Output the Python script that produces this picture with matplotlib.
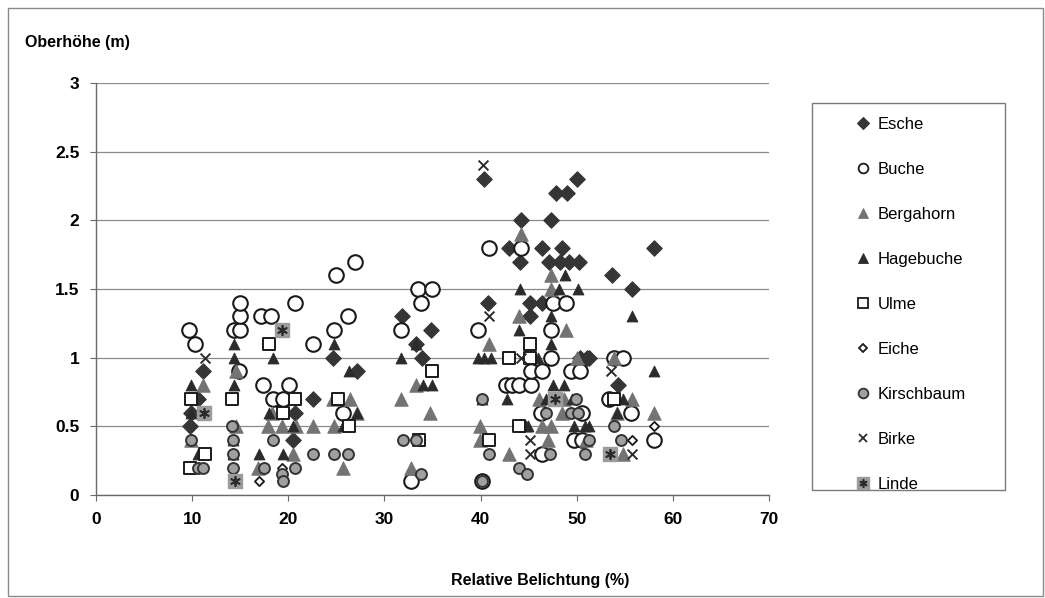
import matplotlib
matplotlib.use("Agg")
import matplotlib.pyplot as plt
from matplotlib.lines import Line2D
from matplotlib.patches import Rectangle
from matplotlib.legend_handler import HandlerTuple

plt.rcParams["font.family"] = ["Liberation Sans", "DejaVu Sans"]

# Relative Belichtung (%) / Oberhöhe (m) per tree species
esche_x = [9.8, 9.9, 10.6, 11.1, 19.4, 20.5, 20.7, 22.6, 24.7, 27.1, 31.8, 33.3, 33.9, 34.8,
           40.4, 40.8, 43.0, 44.2, 44.1, 45.1, 45.1, 46.4, 46.4, 47.3, 47.8, 48.5, 47.1, 48.3,
           49.0, 49.2, 50.0, 50.2, 50.3, 51.1, 51.3, 53.7, 54.3, 55.7, 58.0]
esche_y = [0.5, 0.6, 0.7, 0.9, 0.7, 0.4, 0.6, 0.7, 1.0, 0.9, 1.3, 1.1, 1.0, 1.2,
           2.3, 1.4, 1.8, 2.0, 1.7, 1.4, 1.3, 1.4, 1.8, 2.0, 2.2, 1.8, 1.7, 1.7,
           2.2, 1.7, 2.3, 1.7, 1.0, 1.0, 1.0, 1.6, 0.8, 1.5, 1.8]

buche_x = [9.7, 10.3, 14.4, 15.0, 15.0, 15.0, 14.9, 17.2, 18.2, 20.7, 17.4, 20.1, 18.4, 19.4,
           22.6, 24.8, 25.0, 26.9, 26.2, 25.7, 31.7, 33.5, 34.9, 33.8, 32.8, 39.7, 40.9, 40.1,
           42.6, 43.3, 44.0, 45.2, 44.2, 45.2, 46.4, 47.3, 47.5, 48.9, 47.3, 49.4, 50.3, 46.3,
           49.7, 50.6, 46.4, 50.6, 53.9, 54.8, 53.4, 55.6, 58.0]
buche_y = [1.2, 1.1, 1.2, 1.2, 1.3, 1.4, 0.9, 1.3, 1.3, 1.4, 0.8, 0.8, 0.7, 0.7,
           1.1, 1.2, 1.6, 1.7, 1.3, 0.6, 1.2, 1.5, 1.5, 1.4, 0.1, 1.2, 1.8, 0.1,
           0.8, 0.8, 0.8, 0.8, 1.8, 0.9, 0.9, 1.2, 1.4, 1.4, 1.0, 0.9, 0.9, 0.6,
           0.4, 0.4, 0.3, 0.6, 1.0, 1.0, 0.7, 0.6, 0.4]

bergahorn_x = [11.1, 9.9, 14.6, 14.6, 16.8, 17.9, 18.3, 19.3, 20.8, 22.6, 20.5, 24.6, 26.4,
               27.1, 24.8, 25.7, 31.7, 33.3, 34.7, 32.8, 40.9, 39.9, 39.9, 43.0, 44.2, 44.0,
               47.3, 47.3, 48.9, 50.0, 46.1, 48.7, 48.5, 46.4, 47.3, 47.0, 51.0, 53.9, 55.7,
               54.2, 58.0, 54.8]
bergahorn_y = [0.8, 0.4, 0.9, 0.5, 0.2, 0.5, 0.6, 0.5, 0.5, 0.5, 0.3, 0.7, 0.7,
               0.6, 0.5, 0.2, 0.7, 0.8, 0.6, 0.2, 1.1, 0.5, 0.4, 0.3, 1.9, 1.3,
               1.6, 1.5, 1.2, 1.0, 0.7, 0.7, 0.6, 0.5, 0.5, 0.4, 0.4, 1.0, 0.7,
               0.6, 0.6, 0.3]

hagebuche_x = [9.9, 9.9, 10.6, 14.4, 14.4, 14.4, 14.3, 14.3, 17.0, 18.4, 18.0, 20.5, 19.4,
               24.8, 26.3, 27.1, 25.7, 33.3, 31.7, 34.0, 34.9, 39.7, 40.4, 41.1, 44.0, 42.8,
               44.7, 40.1, 44.1, 48.2, 50.1, 48.8, 47.3, 47.3, 46.0, 47.5, 48.7, 46.8, 49.5,
               44.9, 49.7, 50.9, 55.7, 58.0, 54.8, 54.2, 51.3]
hagebuche_y = [0.8, 0.6, 0.3, 1.1, 1.0, 0.8, 0.4, 0.3, 0.3, 1.0, 0.6, 0.5, 0.3,
               1.1, 0.9, 0.6, 0.5, 1.1, 1.0, 0.8, 0.8, 1.0, 1.0, 1.0, 1.2, 0.7,
               0.5, 0.7, 1.5, 1.5, 1.5, 1.6, 1.3, 1.1, 1.0, 0.8, 0.8, 0.7, 0.7,
               0.5, 0.5, 0.5, 1.3, 0.9, 0.7, 0.6, 0.5]

ulme_x = [9.9, 11.3, 9.8, 14.1, 18.0, 20.7, 19.4, 25.2, 26.3, 34.9, 33.6, 40.9, 43.0, 44.0,
          45.1, 45.1, 53.9]
ulme_y = [0.7, 0.3, 0.2, 0.7, 1.1, 0.7, 0.6, 0.7, 0.5, 0.9, 0.4, 0.4, 1.0, 0.5,
          1.1, 1.0, 0.7]

eiche_x = [17.0, 19.3, 55.8, 58.0]
eiche_y = [0.1, 0.2, 0.4, 0.5]

kirschbaum_x = [9.9, 10.6, 11.1, 14.1, 14.3, 14.3, 14.3, 14.5, 17.5, 18.4, 19.3, 19.4, 20.7,
                22.6, 24.8, 26.2, 31.9, 33.3, 33.8, 40.1, 40.9, 40.1, 44.0, 44.8, 46.8, 49.9,
                49.4, 50.1, 47.2, 50.9, 53.9, 54.6, 51.3]
kirschbaum_y = [0.4, 0.2, 0.2, 0.5, 0.4, 0.3, 0.2, 0.1, 0.2, 0.4, 0.15, 0.1, 0.2,
                0.3, 0.3, 0.3, 0.4, 0.4, 0.15, 0.7, 0.3, 0.1, 0.2, 0.15, 0.6, 0.7,
                0.6, 0.6, 0.3, 0.3, 0.5, 0.4, 0.4]

birke_x = [11.3, 19.3, 40.3, 40.9, 44.2, 45.1, 45.1, 47.7, 53.6, 55.7]
birke_y = [1.0, 1.2, 2.4, 1.3, 1.0, 0.4, 0.3, 0.7, 0.9, 0.3]

linde_x = [11.2, 19.3, 14.5, 47.7, 53.5]
linde_y = [0.6, 1.2, 0.1, 0.7, 0.3]

x_ticks = [0, 10, 20, 30, 40, 50, 60, 70]
y_ticks = [0, 0.5, 1, 1.5, 2, 2.5, 3]
y_ticklabels = ["0", "0.5", "1", "1.5", "2", "2.5", "3"]

W, H = 1045, 598
fig = plt.figure(figsize=(W / 100, H / 100), dpi=100)
ax = fig.add_axes([96 / W, 103 / H, (769 - 96) / W, (515 - 103) / H])

DARK = "#2b2b2b"
DIAMOND = "#353535"
GREY = "#737373"
KGREY = "#a0a0a0"

series = [
    dict(x=esche_x, y=esche_y, label="Esche", marker="D", s=62, fc=DIAMOND, ec=DIAMOND, lw=0.8),
    dict(x=buche_x, y=buche_y, label="Buche", marker="o", s=110, fc="white", ec="#1a1a1a", lw=1.5),
    dict(x=bergahorn_x, y=bergahorn_y, label="Bergahorn", marker="^", s=95, fc=GREY, ec=GREY, lw=0.6),
    dict(x=hagebuche_x, y=hagebuche_y, label="Hagebuche", marker="^", s=62, fc=DARK, ec=DARK, lw=0.6),
    dict(x=ulme_x, y=ulme_y, label="Ulme", marker="s", s=70, fc="white", ec="#1a1a1a", lw=1.4),
    dict(x=eiche_x, y=eiche_y, label="Eiche", marker="D", s=22, fc="white", ec="#1a1a1a", lw=1.3),
    dict(x=kirschbaum_x, y=kirschbaum_y, label="Kirschbaum", marker="o", s=62, fc=KGREY, ec="#333333", lw=1.4),
    dict(x=birke_x, y=birke_y, label="Birke", marker="x", s=50, fc=DARK, ec=DARK, lw=1.4),
]

for k, sr in enumerate(series):
    if sr["marker"] == "x":
        ax.scatter(sr["x"], sr["y"], marker="x", s=sr["s"], c=sr["fc"], linewidths=sr["lw"], zorder=3 + k)
    else:
        ax.scatter(sr["x"], sr["y"], marker=sr["marker"], s=sr["s"], facecolors=sr["fc"],
                   edgecolors=sr["ec"], linewidths=sr["lw"], zorder=3 + k)

# Linde: grey square with a dark asterisk on top
ax.scatter(linde_x, linde_y, marker="s", s=95, facecolors="#9c9c9c", edgecolors="#9c9c9c", zorder=12)
ax.scatter(linde_x, linde_y, marker=(6, 2, 0), s=45, c="#2b2b2b", linewidths=1.3, zorder=13)

ax.set_xlim(0, 70)
ax.set_ylim(0, 3)
ax.set_xticks(x_ticks)
ax.set_yticks(y_ticks)
ax.set_yticklabels(y_ticklabels)
ax.yaxis.grid(True, color="#8a8a8a", linewidth=0.9)
ax.set_axisbelow(True)
for side in ("top", "right"):
    ax.spines[side].set_visible(False)
for side in ("left", "bottom"):
    ax.spines[side].set_color("#6a6a6a")
    ax.spines[side].set_linewidth(1.0)
ax.tick_params(axis="both", direction="out", length=4, color="#6a6a6a", labelsize=12.5, pad=8)
for lab in ax.get_xticklabels() + ax.get_yticklabels():
    lab.set_fontweight("bold")

fig.text(25 / W, 1 - 42 / H, "Oberhöhe (m)", fontsize=11.5, fontweight="bold", ha="left", va="center")
fig.text(540 / W, 1 - 581 / H, "Relative Belichtung (%)", fontsize=11.5, fontweight="bold",
         ha="center", va="center")

# legend with its own frame
handles = []
labels = []
for sr in series:
    if sr["marker"] == "x":
        h = Line2D([], [], ls="none", marker="x", markersize=6, color=sr["fc"], markeredgewidth=1.3)
    else:
        ms = {"D": 6, "o": 7, "^": 7, "s": 6.5}[sr["marker"]]
        if sr["label"] == "Eiche":
            ms = 4.5
        h = Line2D([], [], ls="none", marker=sr["marker"], markersize=ms, markerfacecolor=sr["fc"],
                   markeredgecolor=sr["ec"], markeredgewidth=min(sr["lw"], 1.3))
    handles.append(h)
    labels.append(sr["label"])
lsq = Line2D([], [], ls="none", marker="s", markersize=8, markerfacecolor="#9c9c9c", markeredgecolor="#9c9c9c")
last = Line2D([], [], ls="none", marker=(6, 2, 0), markersize=6, color="#2b2b2b", markeredgewidth=1.2)
handles.append((lsq, last))
labels.append("Linde")

fig.patches.append(Rectangle((812 / W, 1 - 490 / H), (1005 - 812) / W, (490 - 103) / H,
                             transform=fig.transFigure, fill=False, edgecolor="#7a7a7a", linewidth=1.0))
fig.legend(handles, labels, loc="upper left", bbox_to_anchor=(840 / W, 1 - 102 / H), frameon=False,
           fontsize=12, labelspacing=1.8, handlelength=1.0, handletextpad=0.35,
           handler_map={tuple: HandlerTuple(ndivide=1)})

# outer chart border
fig.patches.append(Rectangle((8 / W, 2 / H), (W - 10) / W, (H - 10) / H, transform=fig.transFigure,
                             fill=False, edgecolor="#8a8a8a", linewidth=1.0))

fig.savefig("out.png", dpi=100)
